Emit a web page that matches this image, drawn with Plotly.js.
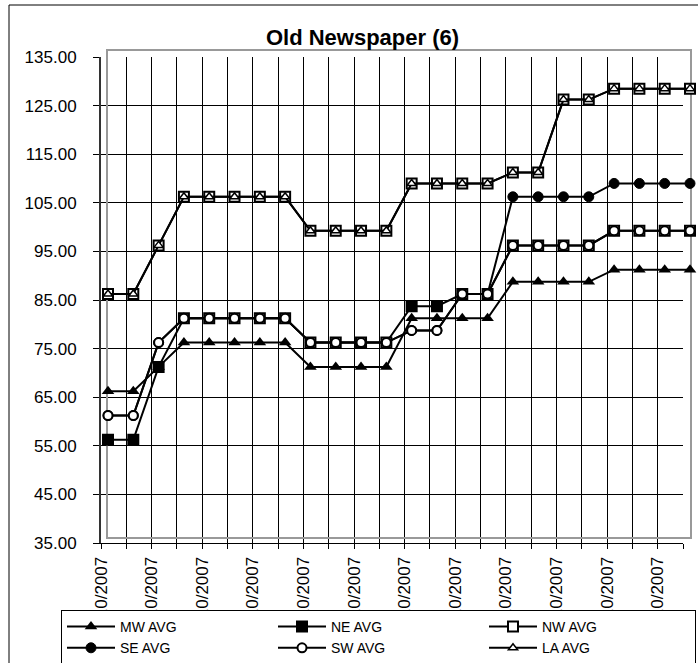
<!DOCTYPE html>
<html>
<head>
<meta charset="utf-8">
<script src="https://cdn.plot.ly/plotly-3.0.1.min.js"></script>
<style>
html,body{margin:0;padding:0;background:#fff;}
#chart{width:698px;height:663px;}
</style>
</head>
<body>
<div id="chart"></div>
<script>
// Categories (semi-monthly dates; every other one is labelled)
const dates = [
  "1/10/2007","1/25/2007","2/10/2007","2/25/2007","3/10/2007","3/25/2007",
  "4/10/2007","4/25/2007","5/10/2007","5/25/2007","6/10/2007","6/25/2007",
  "7/10/2007","7/25/2007","8/10/2007","8/25/2007","9/10/2007","9/25/2007",
  "10/10/2007","10/25/2007","11/10/2007","11/25/2007","12/10/2007","12/25/2007"
];

// Series values
const mwAvg = [65,65,70,75,75,75,75,75,70,70,70,70,80,80,80,80,87.5,87.5,87.5,87.5,90,90,90,90];
const neAvg = [55,55,70,80,80,80,80,80,75,75,75,75,82.5,82.5,85,85,95,95,95,95,98,98,98,98];
const nwAvg = [85,85,95,105,105,105,105,105,98,98,98,98,107.75,107.75,107.75,107.75,110,110,125,125,127.25,127.25,127.25,127.25];
const seAvg = [60,60,75,80,80,80,80,80,75,75,75,75,77.5,77.5,85,85,105,105,105,105,107.75,107.75,107.75,107.75];
const swAvg = [60,60,75,80,80,80,80,80,75,75,75,75,77.5,77.5,85,85,95,95,95,95,98,98,98,98];
const laAvg = [85,85,95,105,105,105,105,105,98,98,98,98,107.75,107.75,107.75,107.75,110,110,125,125,127.25,127.25,127.25,127.25];

// Y tick values
const yTicks = [35,45,55,65,75,85,95,105,115,125,135];

const FONT = 'Arial, "Liberation Sans", sans-serif';
const tickIdx = dates.map((d, i) => i);
const tickText = dates.map((d, i) => (i % 2 === 0 ? d : ''));

// Excel drew the filled NE squares lying under the open circles as outlined squares
const neColors = neAvg.map((v, i) => (v === swAvg[i] ? '#ffffff' : '#000000'));

function series(name, y, marker) {
  return {
    x: dates, y: y, name: name, xaxis: 'x2', yaxis: 'y2',
    type: 'scatter', mode: 'lines+markers', cliponaxis: false,
    line: {color: '#000', width: 2},
    marker: marker
  };
}

const traces = [
  // empty trace so the gridded category frame (x / y) is drawn
  {x: [], y: [], xaxis: 'x', yaxis: 'y', type: 'scatter', mode: 'markers',
   showlegend: false, hoverinfo: 'skip'},
  series('MW AVG', mwAvg, {symbol: 'triangle-up', size: 11, color: '#000', line: {color: '#000', width: 0}}),
  series('NE AVG', neAvg, {symbol: 'square', size: 10, color: neColors, line: {color: '#000', width: 2}}),
  series('NW AVG', nwAvg, {symbol: 'square', size: 10, color: '#fff', line: {color: '#000', width: 2}}),
  series('SE AVG', seAvg, {symbol: 'circle', size: 10, color: '#000', line: {color: '#000', width: 1}}),
  series('SW AVG', swAvg, {symbol: 'circle', size: 9, color: '#fff', line: {color: '#000', width: 2}}),
  series('LA AVG', laAvg, {symbol: 'triangle-up', size: 8, color: '#fff', line: {color: '#000', width: 1.5}})
];

// plot region in pixels: left 101, width 589, top 51, height 492
const W = 589, H = 492;

const layout = {
  width: 698, height: 663,
  paper_bgcolor: '#fff', plot_bgcolor: 'rgba(0,0,0,0)',
  margin: {l: 101, r: 8, t: 51, b: 120, pad: 0, autoexpand: false},
  showlegend: true,
  hovermode: false,
  title: {
    text: 'Old Newspaper (6)',
    font: {family: FONT, size: 22, color: '#000', weight: 700},
    xref: 'container', yref: 'container',
    x: 362.5 / 698, xanchor: 'center',
    y: 1 - 37.5 / 663, yanchor: 'middle'
  },
  xaxis: {
    type: 'linear', range: [0, dates.length - 1],
    domain: [0, 582 / W], anchor: 'y',
    tickmode: 'array', tickvals: tickIdx, ticktext: tickText,
    tickangle: -90, ticks: 'outside', ticklen: 5, tickcolor: '#000', tickwidth: 1,
    ticklabelstandoff: 1,
    showgrid: true, gridcolor: '#000', gridwidth: 1,
    showline: true, linecolor: '#000', linewidth: 1,
    zeroline: false, fixedrange: true,
    tickfont: {family: FONT, size: 17, color: '#000'}
  },
  yaxis: {
    type: 'linear', range: [35, 135],
    domain: [0, 486 / H], anchor: 'x',
    tickmode: 'array', tickvals: yTicks, tickformat: '.2f',
    ticks: 'outside', ticklen: 6, tickcolor: '#000', tickwidth: 1,
    ticklabelstandoff: 13,
    showgrid: true, gridcolor: '#000', gridwidth: 1,
    showline: true, linecolor: '#333', linewidth: 2,
    zeroline: false, fixedrange: true,
    tickfont: {family: FONT, size: 17, color: '#000'}
  },
  xaxis2: {
    type: 'category', categoryorder: 'array', categoryarray: dates,
    range: [0, dates.length - 1],
    domain: [7 / W, 1], anchor: 'y2',
    showline: true, mirror: true, linecolor: '#999', linewidth: 2,
    showgrid: false, zeroline: false, showticklabels: false, ticks: '',
    layer: 'below traces', fixedrange: true
  },
  yaxis2: {
    type: 'linear', range: [35, 135],
    domain: [6 / H, 1], anchor: 'x2',
    showline: true, mirror: true, linecolor: '#999', linewidth: 2,
    showgrid: false, zeroline: false, showticklabels: false, ticks: '',
    layer: 'below traces', fixedrange: true
  },
  legend: {
    orientation: 'h',
    x: (61 - 101) / W, xanchor: 'left',
    y: (543 - 610) / H, yanchor: 'top',
    bgcolor: '#fff', bordercolor: '#000', borderwidth: 1,
    font: {family: FONT, size: 14, color: '#000'},
    itemwidth: 48, entrywidth: 148, entrywidthmode: 'pixels',
    traceorder: 'normal'
  },
  shapes: [{
    type: 'rect', xref: 'paper', yref: 'paper',
    x0: (9 - 101) / W, x1: (705 - 101) / W,
    y0: (543 - 670) / H, y1: (543 - 5) / H,
    line: {color: '#000', width: 1}, fillcolor: 'rgba(0,0,0,0)', layer: 'below'
  }]
};

Plotly.newPlot('chart', traces, layout, {displayModeBar: false, staticPlot: true});
</script>
</body>
</html>
